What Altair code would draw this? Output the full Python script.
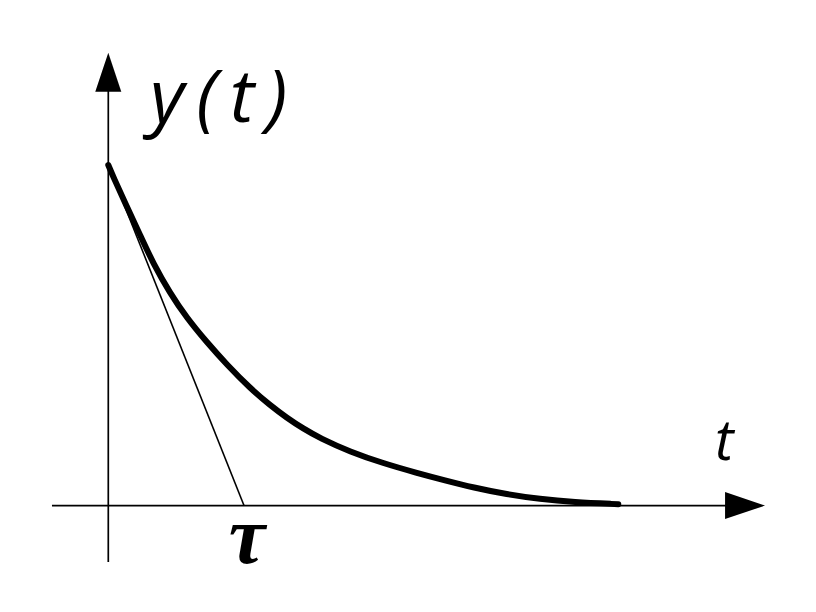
import altair as alt
import pandas as pd

# ---- data -----------------------------------------------------------------
# t in units of tau, y normalised so that y(0) = 1
curve_t = [0.0, 0.037, 0.136, 0.234, 0.332, 0.455, 0.578, 0.725, 0.873,
           1.044, 1.191, 1.315, 1.437, 1.560, 1.781, 2.027, 2.273, 2.481,
           2.690, 2.936, 3.181, 3.427, 3.758]
curve_y = [1.0, 0.965, 0.878, 0.795, 0.710, 0.624, 0.551, 0.480, 0.414,
           0.345, 0.295, 0.258, 0.226, 0.198, 0.158, 0.124, 0.096, 0.074,
           0.053, 0.033, 0.019, 0.010, 0.004]
tangent_t = [0.0, 1.0]
tangent_y = [1.0, 0.0]
label_texts = ["y\u2009(\u2009t\u2009)", "t", "τ"]

# ---- layout ---------------------------------------------------------------
W, H = 800, 596
X_DOMAIN = [-0.739, 5.156]
Y_DOMAIN = [-0.289, 1.461]
xs = alt.Scale(domain=X_DOMAIN, nice=False, zero=False)
ys = alt.Scale(domain=Y_DOMAIN, nice=False, zero=False)

curve_df = pd.DataFrame({"t": curve_t, "y": curve_y})
tangent_df = pd.DataFrame({"t": tangent_t, "y": tangent_y})

# axis lines
h_axis = pd.DataFrame({"x": [-0.415], "x2": [4.70], "y": [0.0]})
v_axis = pd.DataFrame({"x": [0.0], "y": [-0.166], "y2": [1.25]})


def X(f):
    return alt.X(f, scale=xs, axis=None)


def Y(f):
    return alt.Y(f, scale=ys, axis=None)


h_rule = alt.Chart(h_axis).mark_rule(color="black", strokeWidth=1.7).encode(
    x=X("x:Q"), x2="x2:Q", y=Y("y:Q"),
)
v_rule = alt.Chart(v_axis).mark_rule(color="black", strokeWidth=1.7).encode(
    x=X("x:Q"), y=Y("y:Q"), y2="y2:Q",
)

up_arrow = alt.Chart(pd.DataFrame({"x": [0.0], "y": [1.272]})).mark_point(
    shape="M -0.667 1 L 0 -1 L 0.667 1 Z", filled=True, color="black",
    opacity=1, size=1521, strokeWidth=0,
).encode(x=X("x:Q"), y=Y("y:Q"))
right_arrow = alt.Chart(pd.DataFrame({"x": [4.692], "y": [0.0]})).mark_point(
    shape="M -1 -0.675 L 1 0 L -1 0.675 Z", filled=True, color="black",
    opacity=1, size=1600, strokeWidth=0,
).encode(x=X("x:Q"), y=Y("y:Q"))

tangent = alt.Chart(tangent_df).mark_line(color="black", strokeWidth=1.6).encode(
    x=X("t:Q"), y=Y("y:Q"), order="t:Q",
)
curve = alt.Chart(curve_df).mark_line(
    color="black", strokeWidth=6, interpolate="basis", strokeCap="round"
).encode(x=X("t:Q"), y=Y("y:Q"), order="t:Q")

ylabel = alt.Chart(pd.DataFrame({"x": [0.307], "y": [1.126], "s": [label_texts[0]]})).mark_text(
    font="Open Sans", fontStyle="italic", fontSize=74, align="left",
    baseline="alphabetic", color="black",
).encode(x=X("x:Q"), y=Y("y:Q"), text="s:N")
tlabel = alt.Chart(pd.DataFrame({"x": [4.470], "y": [0.133], "s": [label_texts[1]]})).mark_text(
    font="Open Sans", fontStyle="italic", fontSize=56, align="left",
    baseline="alphabetic", color="black",
).encode(x=X("x:Q"), y=Y("y:Q"), text="s:N")
taulabel = alt.Chart(pd.DataFrame({"x": [1.022], "y": [-0.169], "s": [label_texts[2]]})).mark_text(
    font="Liberation Serif", fontStyle="italic", fontWeight="bold", fontSize=82,
    align="center", baseline="alphabetic", color="black",
).encode(x=X("x:Q"), y=Y("y:Q"), text="s:N")

chart = alt.layer(
    h_rule, v_rule, up_arrow, right_arrow, tangent, curve, ylabel, tlabel, taulabel
).properties(
    width=W, height=H, padding=0, autosize=alt.AutoSizeParams(type="none"),
    background="white",
).configure_view(stroke=None)

chart.save("out.html", embed_options={"renderer": "svg", "actions": False})
